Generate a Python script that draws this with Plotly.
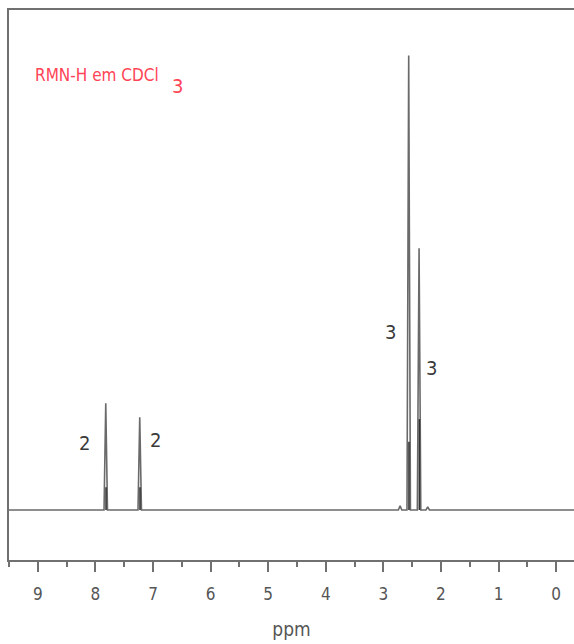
import plotly.graph_objects as go

# Peak data (chemical shift in ppm, relative intensity)
peak_ppm = [7.82, 7.23, 2.71, 2.56, 2.38, 2.23]
peak_height = [23.5, 20.4, 0.9, 100.0, 57.6, 0.7]
# inner doublet components (darker lower part of each line)
inner_ppm = [7.815, 7.225, 2.555, 2.375]
inner_height = [5.0, 5.0, 15.0, 20.0]

x_start, x_end = 9.5, -0.35
half_w = 0.03

# build spectrum polyline from the peak list
xs, ys = [x_start], [0]
for p, h in sorted(zip(peak_ppm, peak_height), reverse=True):
    xs += [p + half_w, p, p - half_w]
    ys += [0, h, 0]
xs.append(x_end)
ys.append(0)

ix, iy = [], []
for p, h in zip(inner_ppm, inner_height):
    ix += [p, p, None]
    iy += [0, h, None]

# integration labels
int_ppm = [8.19, 6.96, 2.87, 2.16]
int_y = [14.7, 15.4, 39.1, 31.2]
int_text = ["2", "2", "3", "3"]

NARROW = "Liberation Sans Narrow, DejaVu Sans Condensed, Roboto Condensed, Liberation Sans"

fig = go.Figure()
fig.add_trace(go.Scatter(x=xs, y=ys, mode="lines",
                         line=dict(color="#6a6a6a", width=1.6),
                         hoverinfo="skip", showlegend=False))
fig.add_trace(go.Scatter(x=ix, y=iy, mode="lines",
                         line=dict(color="#333333", width=1.6),
                         hoverinfo="skip", showlegend=False))

for xp, yp, t in zip(int_ppm, int_y, int_text):
    fig.add_annotation(x=xp, y=yp, text=t, showarrow=False,
                       font=dict(family=NARROW, size=20, color="#3a3a3a"))

fig.add_annotation(xref="paper", yref="paper", x=0.0425, y=0.882, xanchor="left", yanchor="middle",
                   text="RMN-H em CDCl", showarrow=False,
                   font=dict(family=NARROW, size=17, color="#ff4455"))
fig.add_annotation(xref="paper", yref="paper", x=0.285, y=0.862, xanchor="left", yanchor="middle",
                   text="3", showarrow=False,
                   font=dict(family=NARROW, size=20, color="#ff4455"))

fig.update_layout(
    width=574, height=644,
    margin=dict(l=9, r=0, t=10, b=84),
    plot_bgcolor="white", paper_bgcolor="white",
    xaxis=dict(range=[x_start, -0.31], showgrid=False, zeroline=False,
               showline=True, mirror=True, linecolor="#707070", linewidth=2,
               tickmode="array", tickvals=list(range(0, 10)), ticktext=[str(i) for i in range(0, 10)],
               ticks="outside", ticklen=10, tickwidth=1.5, tickcolor="#707070",
               ticklabelstandoff=8,
               minor=dict(tickvals=[i + 0.5 for i in range(0, 10)], ticks="outside", ticklen=5, tickwidth=1.5, tickcolor="#707070"),
               tickfont=dict(family=NARROW, size=17, color="#555555"),
               title=dict(text="ppm", font=dict(family=NARROW, size=19, color="#555555"), standoff=19)),
    yaxis=dict(range=[-11, 110], showgrid=False, zeroline=False,
               showline=True, mirror=False, linecolor="#707070", linewidth=2,
               showticklabels=False, ticks=""),
)

fig.write_html("out.html")
